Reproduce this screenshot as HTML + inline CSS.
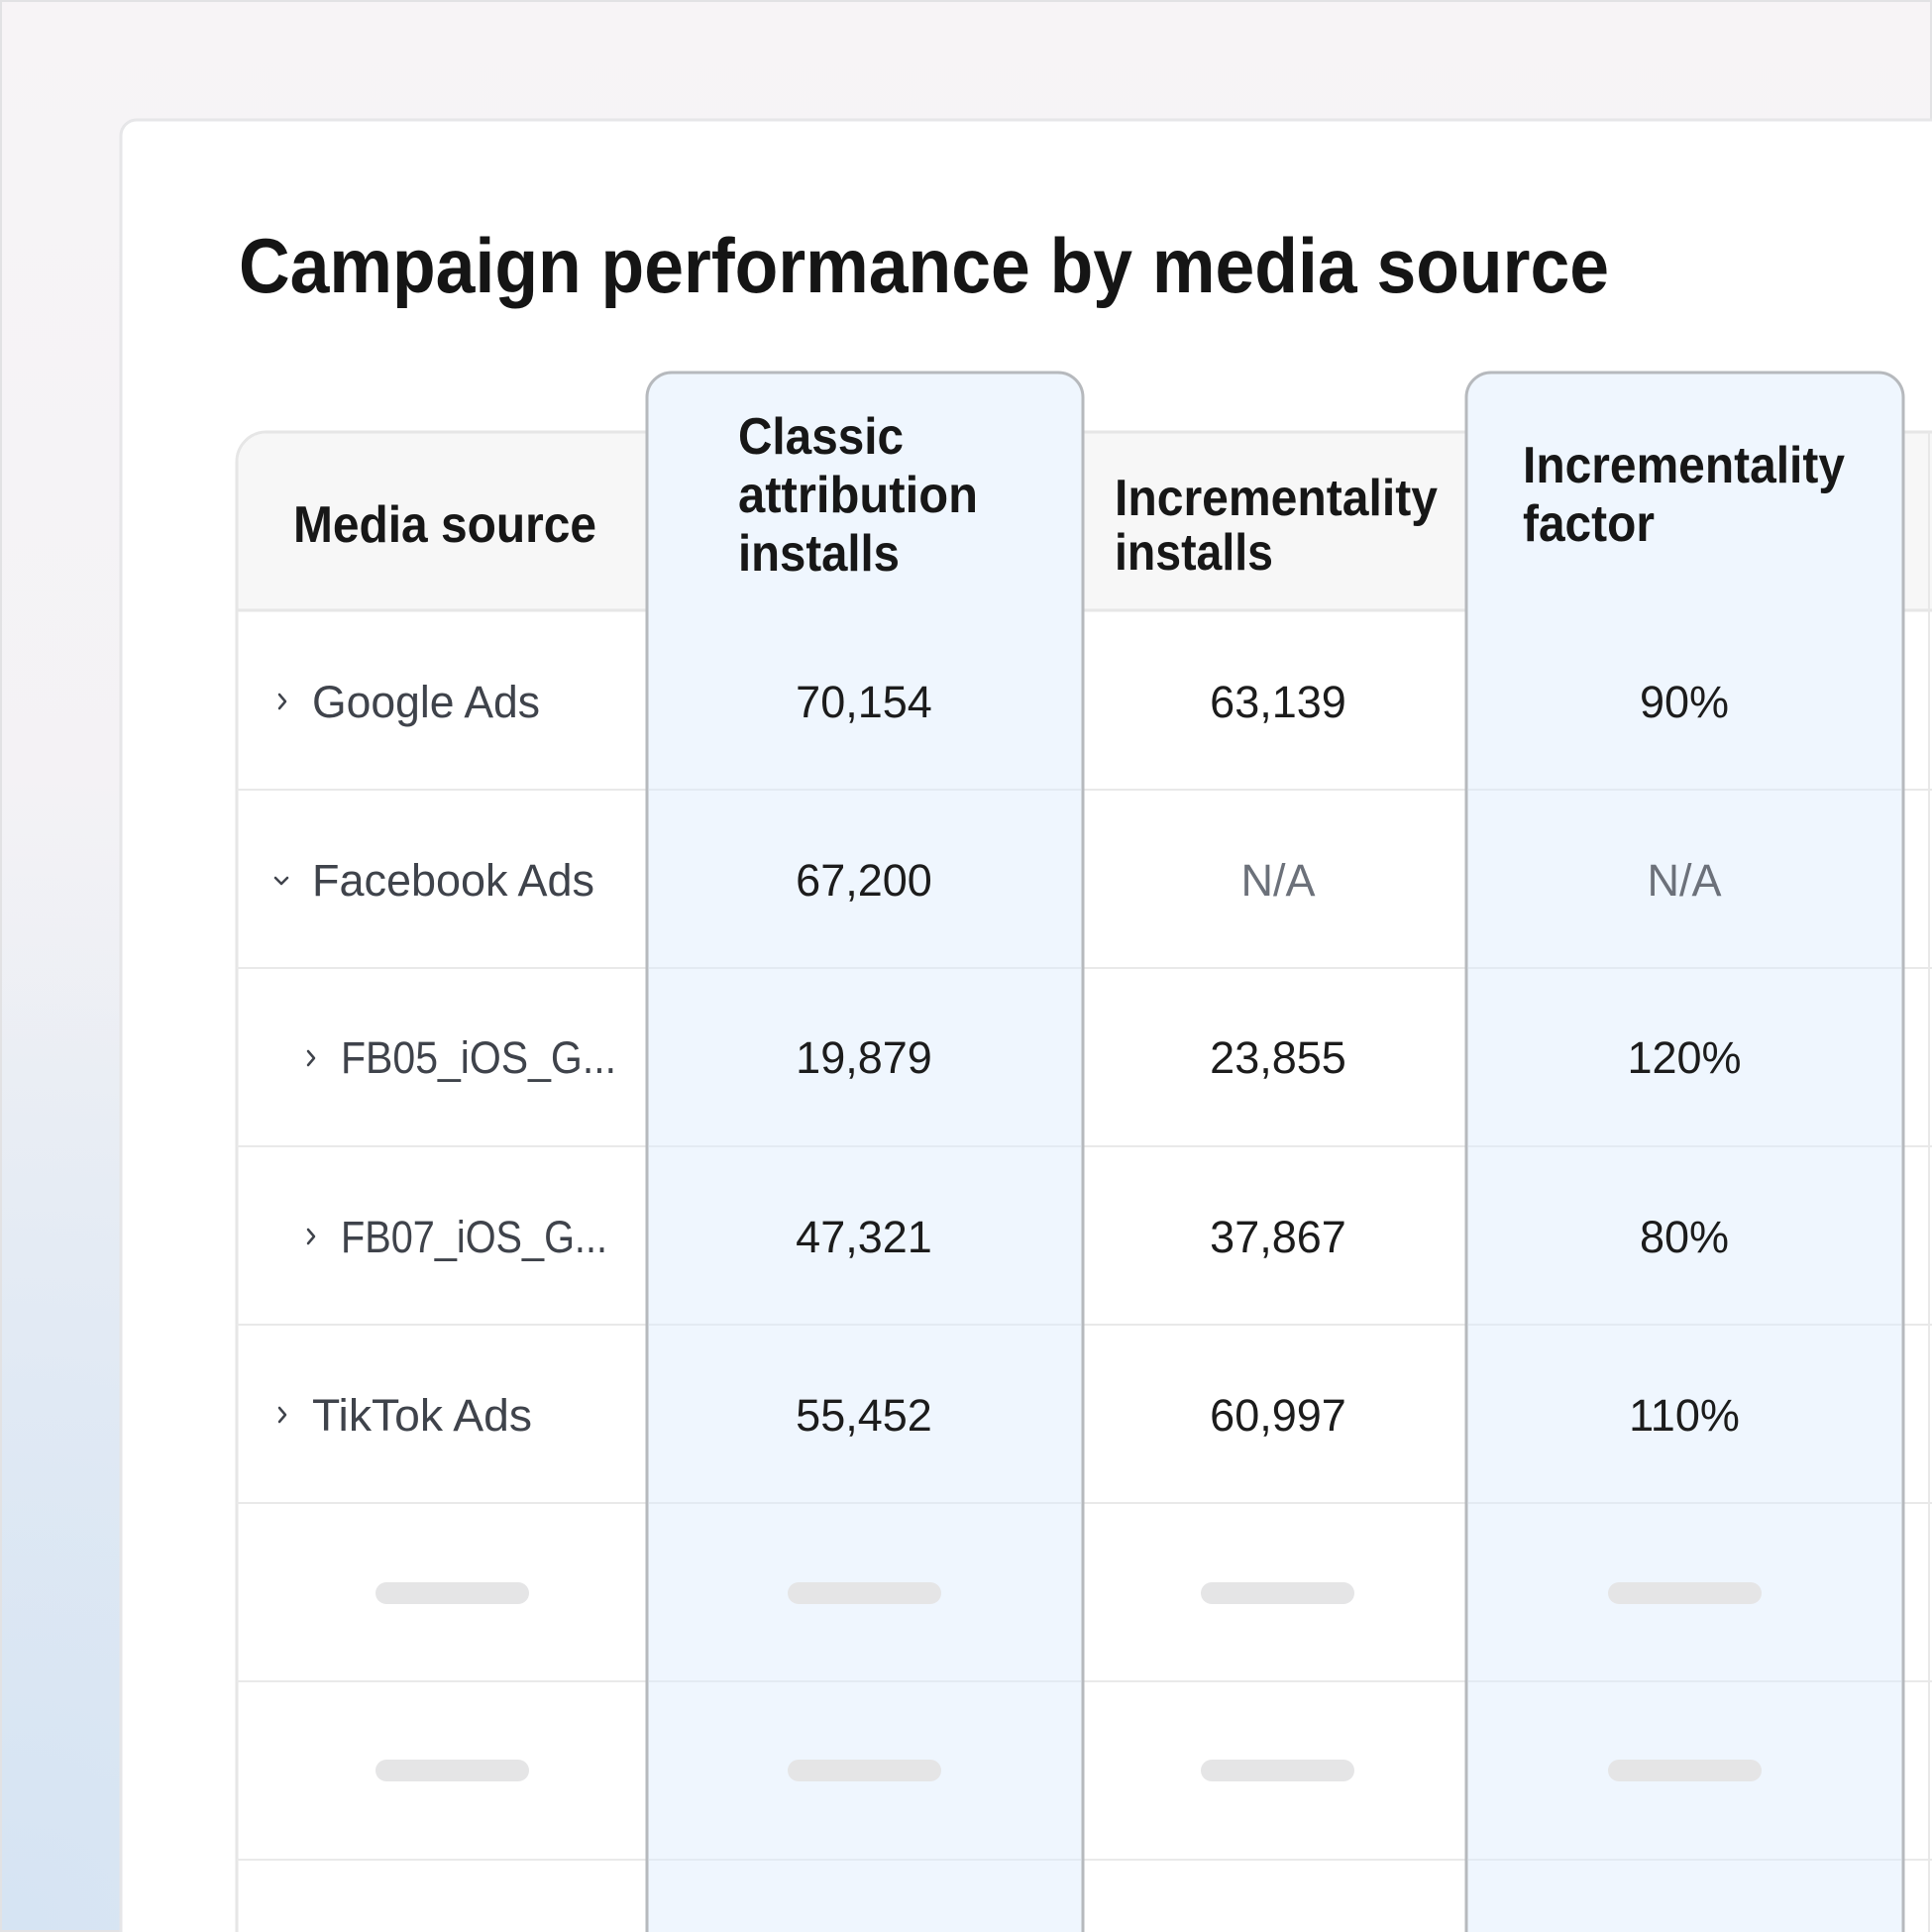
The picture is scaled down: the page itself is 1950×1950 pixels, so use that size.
<!DOCTYPE html>
<html><head><meta charset="utf-8"><style>html,body{margin:0;padding:0;width:1950px;height:1950px;overflow:hidden}svg{display:block}</style></head>
<body>
<svg width="1950" height="1950" viewBox="0 0 1950 1950" xmlns="http://www.w3.org/2000/svg" font-family="Liberation Sans, Arial, sans-serif">
<defs>
<linearGradient id="bg" x1="0" y1="0" x2="0" y2="1">
<stop offset="0" stop-color="#f7f4f6"/><stop offset="0.5" stop-color="#f3f2f5"/><stop offset="1" stop-color="#e3ebf4"/>
</linearGradient>
<radialGradient id="bl" cx="0" cy="1" r="0.6">
<stop offset="0" stop-color="#d6e4f3"/><stop offset="1" stop-color="#d6e4f3" stop-opacity="0"/>
</radialGradient>
</defs>
<rect width="1950" height="1950" fill="url(#bg)"/>
<rect width="1950" height="1950" fill="url(#bl)"/>
<rect x="1" y="1" width="1948" height="1948" fill="none" stroke="#e2e2e4" stroke-width="2"/>
<!-- card -->
<rect x="122" y="121" width="1900" height="1900" rx="16" fill="#fff" stroke="#e6e6e8" stroke-width="3"/>
<text x="241" y="295" font-size="78" font-weight="bold" fill="#151515" textLength="1383" lengthAdjust="spacingAndGlyphs">Campaign performance by media source</text>
<!-- table -->
<path d="M239 2000 V466 a30 30 0 0 1 30 -30 H1990 V2000 Z" fill="#fff" stroke="#e6e6e6" stroke-width="3"/>
<path d="M240.5 616 V466 a28.5 28.5 0 0 1 28.5 -28.5 H1990 V616 Z" fill="#f7f7f7"/>
<line x1="239" y1="616" x2="1990" y2="616" stroke="#e6e6e6" stroke-width="3"/>
<line x1="1947" y1="436" x2="1947" y2="1950" stroke="#e8e8e8" stroke-width="2"/>
<!-- row lines -->
<g stroke="#e9e9e9" stroke-width="2">
<line x1="239" y1="797" x2="1950" y2="797"/><line x1="239" y1="977" x2="1950" y2="977"/>
<line x1="239" y1="1157" x2="1950" y2="1157"/><line x1="239" y1="1337" x2="1950" y2="1337"/>
<line x1="239" y1="1517" x2="1950" y2="1517"/><line x1="239" y1="1697" x2="1950" y2="1697"/>
<line x1="239" y1="1877" x2="1950" y2="1877"/>
</g>
<!-- highlighted columns -->
<path d="M653 1960 V401 a25 25 0 0 1 25 -25 H1068 a25 25 0 0 1 25 25 V1960 Z" fill="#eff6fe" stroke="#b6b9bd" stroke-width="3"/>
<path d="M1480 1960 V401 a25 25 0 0 1 25 -25 H1896 a25 25 0 0 1 25 25 V1960 Z" fill="#eff6fe" stroke="#b6b9bd" stroke-width="3"/>
<g stroke="#e3eaf2" stroke-width="2">
<line x1="655" y1="797" x2="1091" y2="797"/><line x1="655" y1="977" x2="1091" y2="977"/><line x1="655" y1="1157" x2="1091" y2="1157"/><line x1="655" y1="1337" x2="1091" y2="1337"/><line x1="655" y1="1517" x2="1091" y2="1517"/><line x1="655" y1="1697" x2="1091" y2="1697"/><line x1="655" y1="1877" x2="1091" y2="1877"/>
<line x1="1482" y1="797" x2="1919" y2="797"/><line x1="1482" y1="977" x2="1919" y2="977"/><line x1="1482" y1="1157" x2="1919" y2="1157"/><line x1="1482" y1="1337" x2="1919" y2="1337"/><line x1="1482" y1="1517" x2="1919" y2="1517"/><line x1="1482" y1="1697" x2="1919" y2="1697"/><line x1="1482" y1="1877" x2="1919" y2="1877"/>
</g>
<!-- headers -->
<g font-size="52" font-weight="bold" fill="#171717">
<text x="296" y="547" textLength="306" lengthAdjust="spacingAndGlyphs">Media source</text>
<text x="745" y="458" textLength="167" lengthAdjust="spacingAndGlyphs">Classic</text>
<text x="745" y="517" textLength="242" lengthAdjust="spacingAndGlyphs">attribution</text>
<text x="745" y="576" textLength="163" lengthAdjust="spacingAndGlyphs">installs</text>
<text x="1125" y="520" textLength="326" lengthAdjust="spacingAndGlyphs">Incrementality</text>
<text x="1125" y="575" textLength="160" lengthAdjust="spacingAndGlyphs">installs</text>
<text x="1537" y="487" textLength="325" lengthAdjust="spacingAndGlyphs">Incrementality</text>
<text x="1537" y="546" textLength="133" lengthAdjust="spacingAndGlyphs">factor</text>
</g>
<!-- row labels -->
<g font-size="45" fill="#3f434b">
<text x="315" y="724" textLength="230" lengthAdjust="spacingAndGlyphs">Google Ads</text>
<text x="315" y="904" textLength="285" lengthAdjust="spacingAndGlyphs">Facebook Ads</text>
<text x="344" y="1083" textLength="278" lengthAdjust="spacingAndGlyphs">FB05_iOS_G...</text>
<text x="344" y="1264" textLength="269" lengthAdjust="spacingAndGlyphs">FB07_iOS_G...</text>
<text x="315" y="1444" textLength="222" lengthAdjust="spacingAndGlyphs">TikTok Ads</text>
</g>
<g fill="none" stroke="#3f434b" stroke-width="2.5" stroke-linecap="round" stroke-linejoin="round">
<polyline points="282,701 288,708 282,715"/>
<polyline points="278,886 284,892 290,886"/>
<polyline points="311,1061 317,1068 311,1075"/>
<polyline points="311,1241 317,1248 311,1255"/>
<polyline points="282,1421 288,1428 282,1435"/>
</g>
<!-- numbers -->
<g font-size="45" fill="#1c1c1c" text-anchor="middle">
<text x="872" y="724">70,154</text><text x="1290" y="724">63,139</text><text x="1700" y="724">90%</text>
<text x="872" y="904">67,200</text><text x="1290" y="904" fill="#6c717a">N/A</text><text x="1700" y="904" fill="#6c717a">N/A</text>
<text x="872" y="1083">19,879</text><text x="1290" y="1083">23,855</text><text x="1700" y="1083">120%</text>
<text x="872" y="1264">47,321</text><text x="1290" y="1264">37,867</text><text x="1700" y="1264">80%</text>
<text x="872" y="1444">55,452</text><text x="1290" y="1444">60,997</text><text x="1700" y="1444">110%</text>
</g>
<!-- skeletons -->
<g fill="#e5e5e6">
<rect x="379" y="1597" width="155" height="22" rx="11"/><rect x="795" y="1597" width="155" height="22" rx="11"/><rect x="1212" y="1597" width="155" height="22" rx="11"/><rect x="1623" y="1597" width="155" height="22" rx="11"/>
<rect x="379" y="1776" width="155" height="22" rx="11"/><rect x="795" y="1776" width="155" height="22" rx="11"/><rect x="1212" y="1776" width="155" height="22" rx="11"/><rect x="1623" y="1776" width="155" height="22" rx="11"/>
</g>
</svg>
</body></html>
